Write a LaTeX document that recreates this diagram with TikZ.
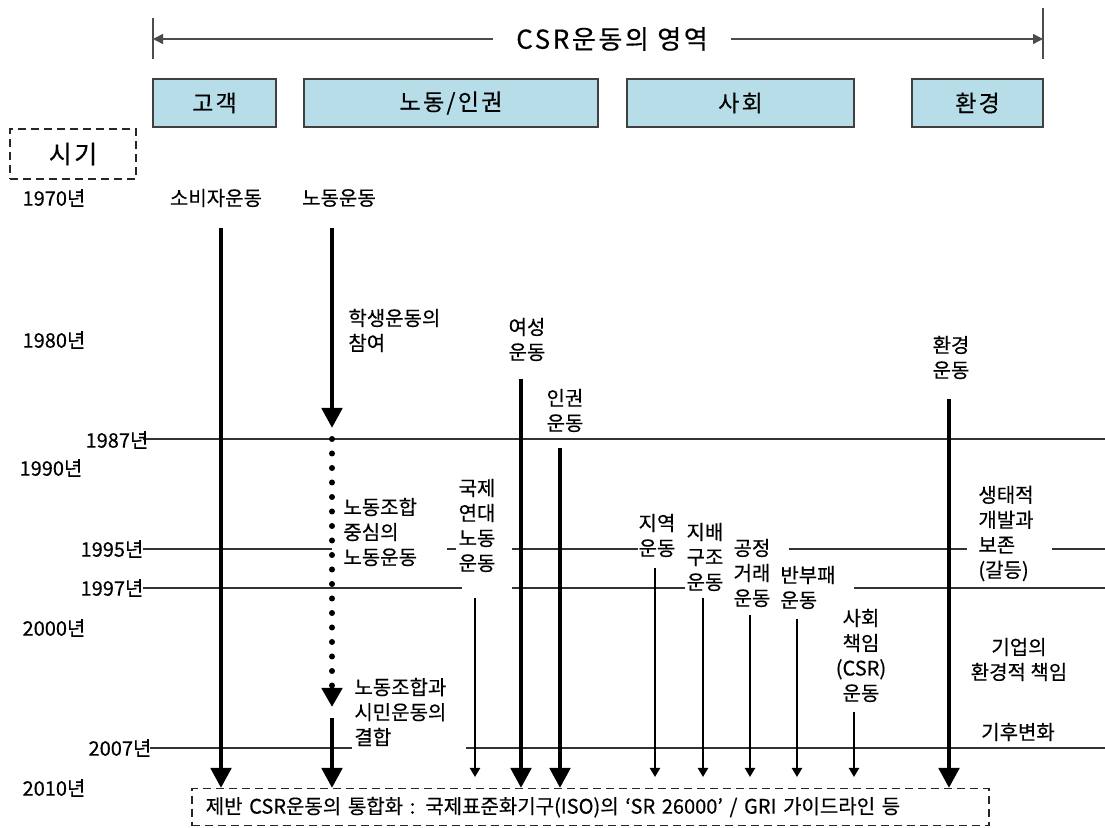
\documentclass[tikz,border=0pt]{standalone}
\usepackage{fontspec}
\setmainfont{Noto Sans CJK KR}[FakeBold=0.4]
\newfontfamily\widefont{Noto Sans CJK KR}[LetterSpace=10, FakeBold=0.4]
\usetikzlibrary{arrows.meta}
\definecolor{areablue}{RGB}{183,222,232}

\begin{document}
\begin{tikzpicture}
  [x=0.5pt, y=-0.5pt,
   every node/.style={inner sep=0pt, align=center, font=\fontsize{10}{12.5}\selectfont},
   area/.style={draw=black!75, line width=0.7pt, fill=areablue, minimum height=24pt, font=\widefont\fontsize{11.5}{14}\selectfont},
   year/.style={font=\fontsize{10}{12}\selectfont},
   rule/.style={draw=black!80, line width=0.9pt},
   frame/.style={draw=black!85, line width=0.75pt, dash pattern=on 4pt off 2.5pt},
   span/.style={draw=black!70, line width=0.7pt, -{Triangle[width=5pt,length=5pt]}},
   heavy/.style={line width=2.4pt, -{Triangle[width=10pt,length=10pt]}},
   light/.style={line width=1.2pt, shorten >=5.5pt, -{Triangle[width=5pt,length=4.5pt]}},
   dotline/.style={line width=3pt, line cap=round, dash pattern=on 0pt off 7.25pt}]
  \fill[white] (0,0) rectangle (1105,828);
  \useasboundingbox (0,0) rectangle (1105,828);

  \draw[black!70, line width=0.7pt] (153,18) -- (153,59) (1043,8) -- (1043,59);
  \node[minimum width=119pt, font=\widefont\fontsize{13}{15}\selectfont] (title) at (612,39) {CSR운동의 영역};
  \coordinate (lend) at (153,39);
  \coordinate (rend) at (1043,39);
  \draw[span] (title.west) -- (lend);
  \draw[span] (title.east) -- (rend);

  \node[area, minimum width=61.5pt] (customer) at (214.5,103) {고객};
  \node[area, minimum width=147pt] (labor) at (451,103) {노동/인권};
  \node[area, minimum width=113.5pt] (society) at (740.5,103) {사회};
  \node[area, minimum width=65.5pt] (environ) at (977.5,103) {환경};
  \node[frame, minimum width=63pt, minimum height=25pt, font=\widefont\fontsize{12.5}{14}\selectfont] (period) at (73,154) {시기};

  \draw[rule] (143,439) -- (1105,439);
  \draw[rule] (143,549) -- (332,549) (447,549) -- (456,549) (512,549) -- (638,549) (789,549) -- (967,549) (1052,549) -- (1105,549);
  \draw[rule] (143,588) -- (462,588) (512,588) -- (685,588) (854,588) -- (1105,588);
  \draw[rule] (150,748) -- (352,748) (466,748) -- (1105,748);

  \node[year] (y1970) at (54,198) {1970년};
  \node[year] (y1980) at (54,340) {1980년};
  \node[year] (y1987) at (117,440) {1987년};
  \node[year] (y1990) at (51,468) {1990년};
  \node[year] (y1995) at (112,549) {1995년};
  \node[year] (y1997) at (112,588) {1997년};
  \node[year] (y2000) at (54,628) {2000년};
  \node[year] (y2007) at (120,748) {2007년};
  \node[year] (y2010) at (54,788) {2010년};

  \node[frame, anchor=north west, minimum height=18.5pt, text width=384.5pt, inner xsep=7pt, align=left] (integ) at (191,788)
    {제반 CSR운동의 통합화 : 국제표준화기구(ISO)의 ‘SR 26000’ / GRI 가이드라인 등};

  \node (consumerlabel) at (216,198) {소비자운동};
  \node (laborlabel) at (339,198) {노동운동};
  \node[anchor=west, align=left] (student) at (348,330.5) {학생운동의\\참여};
  \node (womenlabel) at (527,339.5) {여성\\운동};
  \node (rightslabel) at (565,410.5) {인권\\운동};
  \node (greenlabel) at (951,357.5) {환경\\운동};
  \node (intllabel) at (477,525.5) {국제\\연대\\노동\\운동};
  \node[anchor=west, align=left] (union) at (343,532) {노동조합\\중심의\\노동운동};
  \node (locallabel) at (657,535.5) {지역\\운동};
  \node (govlabel) at (705,557) {지배\\구조\\운동};
  \node (fairlabel) at (752,573) {공정\\거래\\운동};
  \node[anchor=west, align=left] (antilabel) at (780,587.5) {반부패\\운동};
  \node (csrlabel) at (861,655.5) {사회\\책임\\(CSR)\\운동};
  \node[anchor=west, align=left] (eco) at (978,533.5) {생태적\\개발과\\보존\\(갈등)};
  \node (duty) at (1019,659.5) {기업의\\환경적 책임};
  \node (climate) at (1018,732) {기후변화};
  \node[anchor=west, align=left] (civic) at (354,712) {노동조합과\\시민운동의\\결합};

  \coordinate (consumer) at (221,228);
  \coordinate (laborstart) at (332,228);
  \coordinate (laborstop) at (332,428);
  \coordinate (dotstart) at (332,439);
  \coordinate (dotstop) at (332,707);
  \coordinate (unionstart) at (332,718);
  \coordinate (women) at (521,379);
  \coordinate (rights) at (560,448);
  \coordinate (green) at (949,399);
  \coordinate (intl) at (475,598);
  \coordinate (local) at (655,568);
  \coordinate (gov) at (703,598);
  \coordinate (fair) at (750,615);
  \coordinate (anti) at (797,619);
  \coordinate (csr) at (854,712);

  \draw[heavy] (laborstart) -- (laborstop);
  \draw[dotline, -{Triangle[width=10pt,length=9.5pt]}] (dotstart) -- (dotstop);
  \draw[heavy] (unionstart) -- (unionstart |- integ.north);
  \foreach \m in {consumer, women, rights, green}
    \draw[heavy] (\m) -- (\m |- integ.north);
  \foreach \m in {intl, local, gov, fair, anti, csr}
    \draw[light] (\m) -- (\m |- integ.north);
\end{tikzpicture}
\end{document}
